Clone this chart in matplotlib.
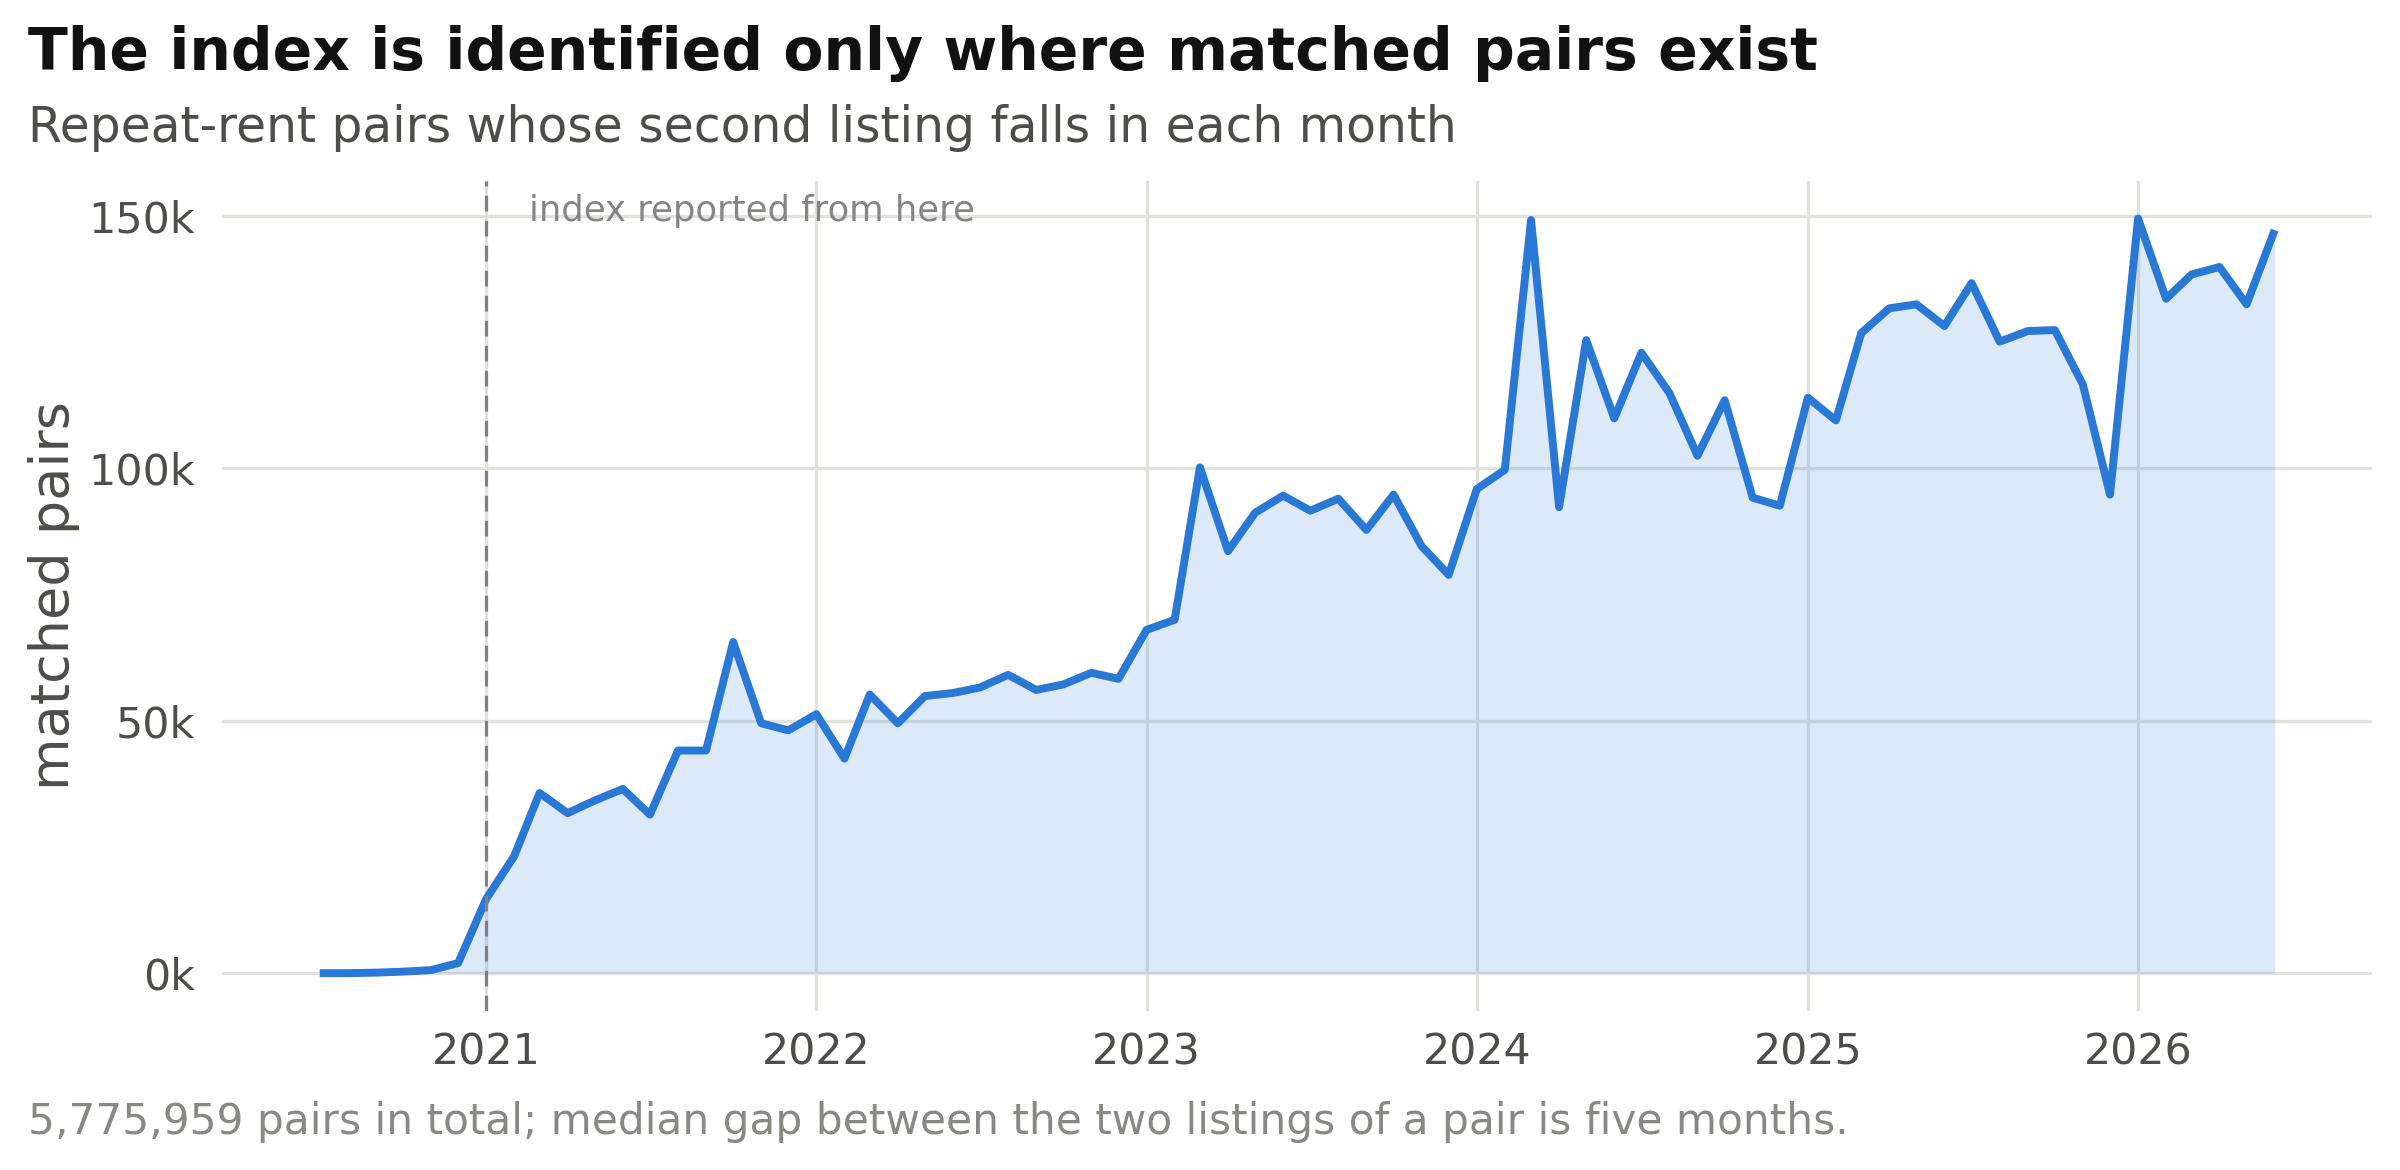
import numpy as np
import pandas as pd
import matplotlib.pyplot as plt
import matplotlib.dates as mdates
from matplotlib.ticker import FuncFormatter


# monthly matched pairs, 2020-07 .. 2026-06 (thousands)
months = pd.date_range("2020-07-01", "2026-06-01", freq="MS")
pairs_k = [
    0.0, 0.0, 0.1, 0.3, 0.6, 2.0,                     # 2020 H2
    14.7, 23.2, 35.7, 31.7, 34.2, 36.5,               # 2021
    31.4, 44.1, 44.1, 65.6, 49.5, 48.1,
    51.3, 42.5, 55.2, 49.5, 54.9, 55.5,               # 2022
    56.6, 59.1, 56.1, 57.2, 59.5, 58.3,
    68.0, 70.0, 100.2, 83.6, 91.2, 94.6,              # 2023
    91.6, 94.0, 87.8, 94.8, 84.6, 78.9,
    95.9, 99.7, 149.2, 92.3, 125.4, 109.9,            # 2024
    122.9, 114.9, 102.5, 113.5, 94.2, 92.6,
    114.0, 109.5, 126.8, 131.7, 132.5, 128.2,         # 2025
    136.7, 125.1, 127.2, 127.4, 116.6, 94.8,
    149.5, 133.6, 138.4, 139.9, 132.5, 147.2,         # 2026 H1
]
pairs = np.array(pairs_k) * 1000

index_start = pd.Timestamp("2021-01-01")

title = "The index is identified only where matched pairs exist"
subtitle = "Repeat-rent pairs whose second listing falls in each month"
caption = "5,775,959 pairs in total; median gap between the two listings of a pair is five months."

blue = "#2a78d6"
grid_col = "#e2e2dc"
text_col = "#4d4d4a"

fig = plt.figure(figsize=(16, 7.8), dpi=150)
ax = fig.add_axes([0.0925, 0.136, 0.896, 0.7095])

ax.fill_between(months, pairs, 0, color=blue, alpha=0.16, lw=0, zorder=2)
ax.plot(months, pairs, color=blue, lw=3.8, zorder=3, solid_capstyle="butt")
ax.axvline(index_start, color="#808080", ls=(0, (5, 3)), lw=1.5, zorder=4)
ax.text(index_start + pd.Timedelta(days=47), 151000, "index reported from here",
        color="#858585", fontsize=17, va="center", ha="left", zorder=5)

ax.margins(x=0.05, y=0.05)
ax.set_yticks([0, 50000, 100000, 150000])
ax.yaxis.set_major_formatter(FuncFormatter(lambda v, p: f"{int(v / 1000)}k"))
ax.xaxis.set_major_locator(mdates.YearLocator())
ax.xaxis.set_major_formatter(mdates.DateFormatter("%Y"))

ax.grid(True, color=grid_col, lw=1.6, zorder=1)
ax.set_axisbelow(True)
for s in ax.spines.values():
    s.set_visible(False)
ax.tick_params(length=0, labelsize=20.5, labelcolor=text_col)
ax.tick_params(axis="y", pad=13)
ax.tick_params(axis="x", pad=10)
ax.set_ylabel("matched pairs", fontsize=26, color=text_col, labelpad=4)

fig.text(0.0115, 0.954, title, fontsize=28, fontweight="bold", color="#111111",
         ha="left", va="center")
fig.text(0.0115, 0.891, subtitle, fontsize=23.4, color=text_col, ha="left", va="center")
fig.text(0.0115, 0.041, caption, fontsize=20.3, color="#888884", ha="left", va="center")

fig.savefig("out.png", dpi=150)
